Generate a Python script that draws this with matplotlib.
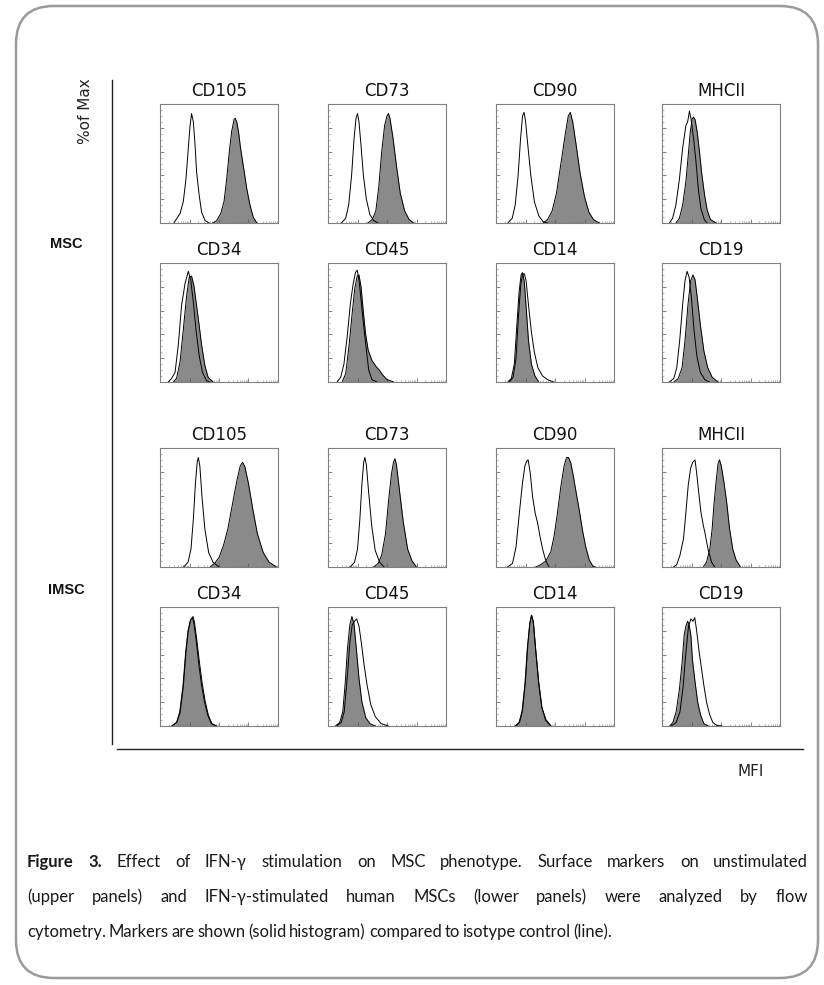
import matplotlib
matplotlib.use('Agg')
import matplotlib.pyplot as plt
from matplotlib.patches import FancyBboxPatch
from matplotlib.ticker import LogLocator, MultipleLocator, NullFormatter
import numpy as np

W, H = 824, 985

# histogram outlines as (log10 MFI, % of max) pairs
# ISO = isotype control (line), POS = marker (solid histogram)
MSC_CD105_ISO = [(0.47, 0), (0.68, 8), (0.79, 18), (0.88, 37), (0.96, 63), (1.02, 82), (1.07, 92),
                 (1.13, 85), (1.19, 65), (1.24, 43), (1.33, 23), (1.41, 9), (1.53, 2), (1.67, 0)]
MSC_CD105_POS = [(1.79, 0), (1.92, 2), (2.06, 8), (2.17, 18), (2.26, 37), (2.35, 60), (2.43, 77),
                 (2.51, 87), (2.55, 88), (2.60, 85), (2.66, 77), (2.73, 63), (2.83, 47), (2.94, 29),
                 (3.05, 15), (3.16, 5), (3.28, 0)]
MSC_CD73_ISO = [(0.45, 0), (0.6, 4), (0.7, 15), (0.8, 40), (0.88, 70), (0.95, 88), (1.0, 92),
                (1.05, 85), (1.12, 65), (1.2, 40), (1.3, 20), (1.42, 7), (1.55, 2), (1.7, 0)]
MSC_CD73_POS = [(1.35, 0), (1.5, 3), (1.62, 10), (1.72, 30), (1.82, 60), (1.92, 82), (2.0, 90),
                (2.05, 92), (2.1, 88), (2.2, 72), (2.32, 48), (2.45, 25), (2.6, 10), (2.75, 3), (2.9, 0)]
MSC_CD90_ISO = [(0.4, 0), (0.55, 4), (0.65, 15), (0.75, 40), (0.83, 70), (0.9, 90), (0.95, 93),
                (1.0, 86), (1.08, 65), (1.18, 40), (1.3, 18), (1.45, 6), (1.6, 1), (1.75, 0)]
MSC_CD90_POS = [(1.6, 0), (1.75, 3), (1.9, 10), (2.05, 25), (2.2, 50), (2.35, 75), (2.45, 90),
                (2.52, 93), (2.6, 85), (2.72, 65), (2.85, 42), (3.0, 22), (3.15, 9), (3.3, 3), (3.5, 0)]
MSC_MHCII_ISO = [(0.25, 0), (0.36, 4), (0.47, 15), (0.59, 37), (0.70, 63), (0.81, 82), (0.87, 85),
                 (0.93, 94), (0.98, 88), (1.07, 71), (1.15, 52), (1.23, 29), (1.32, 12), (1.44, 2.5),
                 (1.53, 0)]
MSC_MHCII_POS = [(0.47, 0), (0.59, 4), (0.70, 15), (0.81, 35), (0.89, 57), (0.96, 77), (1.03, 88),
                 (1.07, 89), (1.12, 87), (1.19, 77), (1.27, 60), (1.34, 43), (1.44, 24), (1.53, 11),
                 (1.64, 3), (1.83, 0)]
MSC_CD34_ISO = [(0.28, 0), (0.39, 3), (0.51, 8), (0.62, 31), (0.73, 64), (0.85, 83), (0.96, 93),
                (1.04, 86), (1.13, 67), (1.22, 44), (1.33, 22), (1.44, 8), (1.58, 1), (1.69, 0)]
MSC_CD34_POS = [(0.45, 0), (0.56, 3), (0.68, 17), (0.79, 44), (0.90, 72), (0.99, 88), (1.07, 89),
                (1.15, 81), (1.24, 64), (1.33, 47), (1.41, 31), (1.52, 14), (1.63, 4), (1.80, 0)]
MSC_CD45_ISO = [(0.31, 0), (0.43, 4), (0.54, 15), (0.65, 38), (0.76, 66), (0.85, 82), (0.93, 92),
                (0.99, 94), (1.05, 86), (1.12, 69), (1.21, 47), (1.30, 27), (1.38, 10), (1.49, 2),
                (1.66, 0)]
MSC_CD45_POS = [(0.48, 0), (0.60, 7), (0.71, 30), (0.82, 58), (0.91, 79), (0.99, 89), (1.05, 90),
                (1.12, 80), (1.19, 61), (1.27, 41), (1.36, 27), (1.49, 18), (1.63, 13), (1.74, 10),
                (1.85, 6), (2.0, 2), (2.23, 0)]
MSC_CD14_ISO = [(0.45, 0), (0.58, 4), (0.68, 20), (0.76, 55), (0.84, 82), (0.9, 90), (0.96, 91),
                (1.02, 85), (1.1, 65), (1.2, 42), (1.3, 25), (1.42, 12), (1.58, 5), (1.75, 2), (1.95, 0)]
MSC_CD14_POS = [(0.4, 0), (0.52, 3), (0.62, 15), (0.7, 45), (0.78, 75), (0.85, 90), (0.9, 92),
                (0.96, 84), (1.03, 60), (1.1, 35), (1.2, 15), (1.32, 5), (1.45, 0)]
MSC_CD19_ISO = [(0.25, 0), (0.4, 3), (0.5, 12), (0.6, 35), (0.7, 65), (0.78, 85), (0.85, 93),
                (0.92, 88), (1.0, 70), (1.08, 45), (1.18, 22), (1.3, 8), (1.45, 2), (1.6, 0)]
MSC_CD19_POS = [(0.4, 0), (0.55, 3), (0.68, 12), (0.78, 35), (0.88, 65), (0.97, 85), (1.05, 90),
                (1.12, 86), (1.2, 70), (1.3, 48), (1.42, 26), (1.55, 12), (1.7, 4), (1.9, 0)]

IMSC_CD105_ISO = [(0.8, 0), (0.95, 4), (1.05, 15), (1.13, 40), (1.2, 70), (1.26, 88), (1.3, 92),
                  (1.35, 85), (1.42, 60), (1.52, 32), (1.65, 12), (1.8, 4), (2.0, 0)]
IMSC_CD105_POS = [(1.7, 0), (1.85, 3), (2.0, 8), (2.15, 18), (2.3, 32), (2.45, 52), (2.6, 72),
                  (2.72, 85), (2.8, 88), (2.88, 84), (3.0, 70), (3.15, 48), (3.3, 28), (3.5, 12),
                  (3.7, 4), (3.95, 0)]
IMSC_CD73_ISO = [(0.75, 0), (0.9, 4), (1.0, 15), (1.08, 40), (1.15, 70), (1.21, 88), (1.25, 92),
                 (1.3, 86), (1.38, 62), (1.48, 35), (1.6, 14), (1.75, 4), (1.9, 0)]
IMSC_CD73_POS = [(1.55, 0), (1.7, 3), (1.82, 10), (1.95, 28), (2.05, 55), (2.15, 78), (2.22, 88),
                 (2.27, 91), (2.32, 86), (2.42, 65), (2.55, 38), (2.7, 15), (2.85, 5), (3.0, 0)]
IMSC_CD90_ISO = [(0.39, 0), (0.56, 3), (0.68, 17), (0.79, 45), (0.90, 71), (0.98, 85), (1.04, 89),
                 (1.09, 90), (1.16, 79), (1.24, 59), (1.33, 45), (1.41, 37), (1.49, 26), (1.58, 15),
                 (1.69, 5), (1.80, 0)]
IMSC_CD90_POS = [(1.35, 0), (1.52, 2), (1.69, 5), (1.86, 13), (1.97, 26), (2.08, 45), (2.20, 68),
                 (2.31, 85), (2.39, 92), (2.46, 92), (2.54, 87), (2.61, 78), (2.70, 65), (2.82, 48),
                 (2.93, 31), (3.04, 17), (3.16, 6), (3.29, 0.5), (3.38, 0)]
IMSC_MHCII_ISO = [(0.39, 0), (0.5, 2), (0.61, 10), (0.73, 24), (0.80, 43), (0.89, 69), (0.97, 83),
                  (1.04, 88), (1.12, 90), (1.17, 80), (1.23, 66), (1.32, 46), (1.40, 35), (1.47, 27),
                  (1.56, 15), (1.68, 4), (1.79, 0)]
IMSC_MHCII_POS = [(1.40, 0), (1.51, 4), (1.62, 15), (1.70, 32), (1.76, 52), (1.83, 71), (1.90, 87),
                  (1.95, 90), (2.01, 85), (2.10, 71), (2.19, 55), (2.29, 32), (2.40, 15), (2.51, 6),
                  (2.66, 0)]
IMSC_CD34_ISO = [(0.41, 0), (0.57, 3), (0.68, 11), (0.79, 33), (0.88, 62), (0.96, 80), (1.04, 89),
                 (1.12, 92), (1.17, 87), (1.25, 72), (1.34, 53), (1.43, 36), (1.53, 21), (1.64, 9),
                 (1.76, 2), (1.92, 0)]
IMSC_CD34_POS = [(0.39, 0), (0.56, 3), (0.67, 12), (0.78, 34), (0.87, 62), (0.95, 80), (1.03, 89),
                 (1.10, 91), (1.15, 86), (1.23, 71), (1.32, 51), (1.41, 34), (1.51, 20), (1.62, 9),
                 (1.74, 2), (1.90, 0)]
IMSC_CD45_ISO = [(0.3, 0), (0.45, 3), (0.55, 12), (0.65, 40), (0.74, 70), (0.82, 85), (0.9, 88),
                 (0.97, 90), (1.05, 84), (1.13, 70), (1.22, 52), (1.32, 35), (1.45, 18), (1.6, 8),
                 (1.8, 2), (2.05, 0)]
IMSC_CD45_POS = [(0.25, 0), (0.4, 3), (0.5, 12), (0.58, 35), (0.66, 65), (0.74, 85), (0.81, 92),
                 (0.88, 86), (0.96, 65), (1.05, 40), (1.15, 20), (1.28, 7), (1.42, 2), (1.6, 0)]
IMSC_CD14_ISO = [(0.67, 0), (0.8, 3), (0.9, 13), (1.0, 38), (1.08, 68), (1.15, 87), (1.21, 93),
                 (1.27, 87), (1.35, 63), (1.45, 36), (1.56, 15), (1.7, 5), (1.87, 0)]
IMSC_CD14_POS = [(0.65, 0), (0.78, 3), (0.88, 12), (0.98, 35), (1.06, 65), (1.14, 85), (1.2, 93),
                 (1.26, 88), (1.34, 65), (1.44, 38), (1.55, 16), (1.68, 5), (1.85, 0)]
IMSC_CD19_ISO = [(0.31, 0), (0.48, 3), (0.61, 12), (0.72, 34), (0.81, 62), (0.90, 84), (0.98, 90),
                 (1.05, 88), (1.11, 91), (1.17, 81), (1.25, 64), (1.34, 48), (1.42, 34), (1.51, 20),
                 (1.61, 10), (1.72, 3), (1.86, 0.5), (2.03, 0)]
IMSC_CD19_POS = [(0.26, 0), (0.37, 3), (0.48, 12), (0.59, 31), (0.68, 53), (0.75, 76), (0.81, 84),
                 (0.87, 88), (0.92, 85), (0.98, 76), (1.03, 56), (1.12, 37), (1.21, 20), (1.31, 9),
                 (1.42, 2), (1.57, 0)]

markers = ['CD105', 'CD73', 'CD90', 'MHCII', 'CD34', 'CD45', 'CD14', 'CD19']

panels = [
    (MSC_CD105_ISO, MSC_CD105_POS), (MSC_CD73_ISO, MSC_CD73_POS),
    (MSC_CD90_ISO, MSC_CD90_POS), (MSC_MHCII_ISO, MSC_MHCII_POS),
    (MSC_CD34_ISO, MSC_CD34_POS), (MSC_CD45_ISO, MSC_CD45_POS),
    (MSC_CD14_ISO, MSC_CD14_POS), (MSC_CD19_ISO, MSC_CD19_POS),
    (IMSC_CD105_ISO, IMSC_CD105_POS), (IMSC_CD73_ISO, IMSC_CD73_POS),
    (IMSC_CD90_ISO, IMSC_CD90_POS), (IMSC_MHCII_ISO, IMSC_MHCII_POS),
    (IMSC_CD34_ISO, IMSC_CD34_POS), (IMSC_CD45_ISO, IMSC_CD45_POS),
    (IMSC_CD14_ISO, IMSC_CD14_POS), (IMSC_CD19_ISO, IMSC_CD19_POS),
]

caption = [
    "Figure 3. Effect of IFN-γ stimulation on MSC phenotype. Surface markers on unstimulated",
    "(upper panels) and IFN-γ-stimulated human MSCs (lower panels) were analyzed by flow",
    "cytometry. Markers are shown (solid histogram) compared to isotype control (line).",
]

fig = plt.figure(figsize=(W / 100, H / 100), dpi=100)
bg = fig.add_axes([0, 0, 1, 1])
bg.set_xlim(0, W)
bg.set_ylim(H, 0)
bg.axis('off')

# rounded frame
bg.add_patch(FancyBboxPatch((16, 6), 802, 972, boxstyle="round,pad=0,rounding_size=38",
                            fc='none', ec='#9a9a9a', lw=1.8))

# outer axes lines
bg.plot([112, 112], [80, 744], color='#222222', lw=1.0)
bg.plot([117, 803], [749, 749], color='#222222', lw=1.0)

bg.text(86, 111, '%of Max', rotation=90, ha='center', va='center', fontsize=11, color='#222222')
bg.text(751, 771, 'MFI', ha='center', va='center', fontsize=11, color='#222222')
bg.text(50, 244, 'MSC', ha='left', va='center', fontsize=10.5, fontweight='bold',
        family='Liberation Sans', color='#111111')
bg.text(48, 590, 'IMSC', ha='left', va='center', fontsize=10.5, fontweight='bold',
        family='Liberation Sans', color='#111111')

col_left = [160, 328, 496, 662]
row_top = [104, 263, 448, 607]
pw, ph = 118, 119
fill_col = '#8a8a8a'

for i, (iso, pos) in enumerate(panels):
    r, c = divmod(i, 4)
    ax = fig.add_axes([col_left[c] / W, 1 - (row_top[r] + ph) / H, pw / W, ph / H])
    ix, iy = np.array(iso).T
    px, py = np.array(pos).T
    ax.fill_between(10 ** px, py, 0, color=fill_col, lw=0)
    ax.plot(10 ** px, py, color='black', lw=0.7)
    ax.plot(10 ** ix, iy, color='black', lw=0.7)
    ax.set_xscale('log')
    ax.set_xlim(1, 1e4)
    ax.set_ylim(0, 100)
    ax.xaxis.set_major_locator(LogLocator(base=10, numticks=10))
    ax.xaxis.set_minor_locator(LogLocator(base=10, subs=np.arange(2, 10), numticks=10))
    ax.xaxis.set_major_formatter(NullFormatter())
    ax.xaxis.set_minor_formatter(NullFormatter())
    ax.yaxis.set_major_locator(MultipleLocator(20))
    ax.yaxis.set_minor_locator(MultipleLocator(5))
    ax.set_yticklabels([])
    ax.tick_params(which='major', direction='in', length=3, width=0.5, color='#555555')
    ax.tick_params(which='minor', direction='in', length=1.5, width=0.4, color='#777777')
    for s in ax.spines.values():
        s.set_color('#808080')
        s.set_linewidth(0.8)
    bg.text(col_left[c] + pw / 2, row_top[r] - 8, markers[i % 8], ha='center', va='baseline',
            fontsize=12, color='#111111')

# justified caption
renderer = fig.canvas.get_renderer()
x0, x1 = 27, 808
base_y = [867, 902, 937]
cap_font = ['Lato', 'DejaVu Sans']
for li, line in enumerate(caption):
    words = line.split(' ')
    texts = []
    for wi, w in enumerate(words):
        bold = li == 0 and wi < 2
        t = bg.text(0, base_y[li], w, ha='left', va='baseline', fontsize=12,
                    family=cap_font, fontweight='bold' if bold else 'normal', color='#1a1a1a')
        texts.append(t)
    widths = [t.get_window_extent(renderer).width for t in texts]
    if li < len(caption) - 1:
        gap = (x1 - x0 - sum(widths)) / (len(words) - 1)
    else:
        gap = 2.8
    x = x0
    for t, wdt in zip(texts, widths):
        t.set_x(x)
        x += wdt + gap

fig.savefig('out.png', dpi=100)
